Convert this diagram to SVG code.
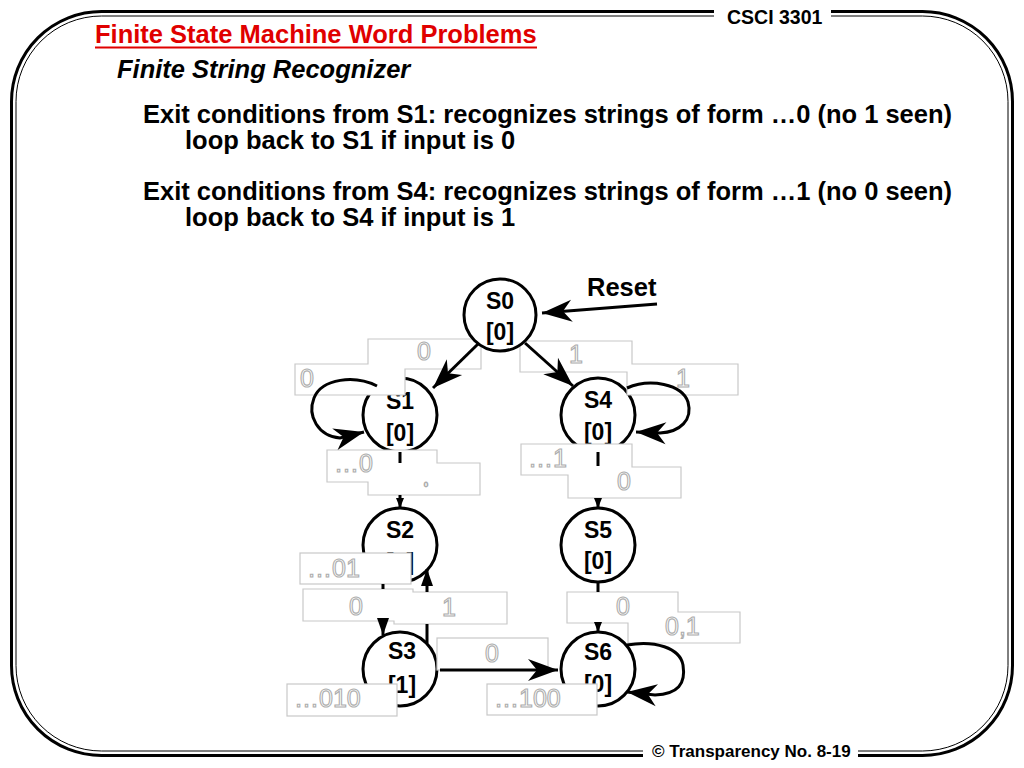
<svg xmlns="http://www.w3.org/2000/svg" width="1024" height="768" viewBox="0 0 1024 768">
<style>
.t{font-family:"Liberation Sans",Arial,sans-serif;font-weight:bold;font-size:25.5px;fill:#000}
.nt{font-family:"Liberation Sans",Arial,sans-serif;font-weight:bold;font-size:23px;fill:#000;text-anchor:middle}
.node{fill:#fff;stroke:#000;stroke-width:3}
.lbl{fill:#fff;stroke:#c8c8c8;stroke-width:1.2}
.lt{font-family:"Liberation Sans",Arial,sans-serif;font-size:25px;fill:#fff;stroke:#adadad;stroke-width:1.1}
.edge{fill:none;stroke:#000;stroke-width:3}
.frame{fill:none;stroke:#000}
</style>
<defs>
<marker id="big" viewBox="-32 -12 34 24" refX="0" refY="0" markerWidth="34" markerHeight="24" markerUnits="userSpaceOnUse" orient="auto"><path d="M0,0 L-30,-11 L-21,0 L-30,11 Z" fill="#000"/></marker>
<marker id="med" viewBox="-18 -8 20 16" refX="0" refY="0" markerWidth="20" markerHeight="16" markerUnits="userSpaceOnUse" orient="auto"><path d="M0,0 L-17,-6 L-17,6 Z" fill="#000"/></marker>
<marker id="small" viewBox="-12 -6 14 12" refX="0" refY="0" markerWidth="14" markerHeight="12" markerUnits="userSpaceOnUse" orient="auto"><path d="M0,0 L-10,-4 L-10,4 Z" fill="#000"/></marker>
</defs>
<rect width="1024" height="768" fill="#fff"/>
<g id="frame">
<path class="frame" stroke-width="3" d="M714 11.5 H101.5 A90 90 0 0 0 11.5 101.5 V665.5 A90 90 0 0 0 101.5 755.5 H643"/>
<path class="frame" stroke-width="3" d="M858 755.5 H922.5 A90 90 0 0 0 1012.5 665.5 V101.5 A90 90 0 0 0 922.5 11.5 H831"/>
<path class="frame" stroke-width="1" d="M714 16 H101.5 A85.5 85.5 0 0 0 16 101.5 V665.5 A85.5 85.5 0 0 0 101.5 751 H643"/>
<path class="frame" stroke-width="1" d="M858 751 H922.5 A85.5 85.5 0 0 0 1008 665.5 V101.5 A85.5 85.5 0 0 0 922.5 16 H831"/>
</g>
<g id="header">
<text x="727" y="24" font-family="Liberation Sans, Arial, sans-serif" font-weight="bold" font-size="19.5">CSCI 3301</text>
<text x="95" y="43" class="t" style="fill:#e00000">Finite State Machine Word Problems</text>
<line x1="95" y1="47.5" x2="537" y2="47.5" stroke="#e00000" stroke-width="2"/>
<text x="117" y="78" class="t" font-style="italic">Finite String Recognizer</text>
<text x="143" y="123" class="t">Exit conditions from S1: recognizes strings of form …0 (no 1 seen)</text>
<text x="185" y="149" class="t">loop back to S1 if input is 0</text>
<text x="143" y="200" class="t">Exit conditions from S4: recognizes strings of form …1 (no 0 seen)</text>
<text x="185" y="226" class="t">loop back to S4 if input is 1</text>
</g>
<g id="footer">
<text x="652" y="757" font-family="Liberation Sans, Arial, sans-serif" font-weight="bold" font-size="17">© Transparency No. 8-19</text>
</g>
<g id="S1"><circle class="node" cx="400" cy="415" r="37"/><text class="nt" x="400" y="409">S1</text><text class="nt" x="400" y="441">[0]</text></g>
<g id="S4"><circle class="node" cx="598" cy="415" r="37"/><text class="nt" x="598" y="408">S4</text><text class="nt" x="598" y="440">[0]</text></g>
<g id="S2"><circle class="node" cx="400" cy="545" r="37"/><text class="nt" x="400" y="538">S2</text><text class="nt" x="400" y="570">[0]</text></g>
<g id="S5"><circle class="node" cx="598" cy="545" r="37"/><text class="nt" x="598" y="538">S5</text><text class="nt" x="598" y="569">[0]</text></g>
<g id="S3"><circle class="node" cx="400" cy="669" r="37"/><text class="nt" x="402" y="659">S3</text><text class="nt" x="402" y="693">[1]</text></g>
<g id="S6"><circle class="node" cx="598" cy="669" r="37"/><text class="nt" x="598" y="660">S6</text><text class="nt" x="598" y="692">[0]</text></g>
<g id="labels">
<path class="lbl" d="M368 339 H481 V369 H405 V395 H295 V364 H368 Z"/>
<text class="lt" x="424" y="360" text-anchor="middle">0</text>
<text class="lt" x="307" y="387" text-anchor="middle">0</text>
<path class="lbl" d="M520 341 H632 V364 H738 V395 H627 V372 H520 Z"/>
<text class="lt" x="576" y="363" text-anchor="middle">1</text>
<text class="lt" x="683" y="387" text-anchor="middle">1</text>
<path class="lbl" d="M327 450 H437 V463 H480 V495 H368 V482 H327 Z"/>
<text class="lt" x="334" y="472">…0</text>
<text class="lt" x="426" y="487" text-anchor="middle" style="font-size:8px;stroke-width:0.8">0</text>
<path class="lbl" d="M521 444 H632 V467 H681 V498 H568 V475 H521 Z"/>
<text class="lt" x="528" y="467">…1</text>
<text class="lt" x="624" y="490" text-anchor="middle">0</text>
<rect class="lbl" x="300" y="553" width="111" height="31"/>
<text class="lt" x="307" y="577">…01</text>
<path class="lbl" d="M303 589 H413 V592 H507 V624 H394 V621 H303 Z"/>
<text class="lt" x="356" y="615" text-anchor="middle">0</text>
<text class="lt" x="449" y="616" text-anchor="middle">1</text>
<rect class="lbl" x="437" y="638" width="111" height="32"/>
<text class="lt" x="492" y="662" text-anchor="middle">0</text>
<rect class="lbl" x="287" y="684" width="110" height="32"/>
<text class="lt" x="294" y="707">…010</text>
<rect class="lbl" x="487" y="684" width="110" height="31"/>
<text class="lt" x="494" y="707">…100</text>
<path class="lbl" d="M567 592 H678 V612 H740 V643 H628 V623 H567 Z"/>
<text class="lt" x="623" y="615" text-anchor="middle">0</text>
<text class="lt" x="665" y="635">0,1</text>
</g>
<g id="S0"><circle class="node" cx="500" cy="315" r="36"/><text class="nt" x="500" y="309">S0</text><text class="nt" x="500" y="340">[0]</text></g>
<g id="connectors">
<text x="587" y="296" font-family="Liberation Sans, Arial, sans-serif" font-weight="bold" font-size="25.5">Reset</text>
<path class="edge" d="M657 304 L542 313" marker-end="url(#big)"/>
<path class="edge" d="M478 344 L433 388" marker-end="url(#big)"/>
<path class="edge" d="M525 343 L573 386" marker-end="url(#big)"/>
<path class="edge" d="M377 386 C355 375 322 378 314 398 C307 416 318 436 340 438 L364 432" marker-end="url(#big)"/>
<path class="edge" d="M627 388 C650 378 682 384 688 402 C693 420 680 432 660 433 L636 432" marker-end="url(#big)"/>
<path class="edge" d="M400 452 V463"/>
<path class="edge" d="M400 495 V508" marker-end="url(#small)"/>
<path class="edge" d="M598 452 V466"/>
<path class="edge" d="M598 498 V508" marker-end="url(#small)"/>
<path class="edge" d="M383 584 V589"/>
<path class="edge" d="M383 621 V635" marker-end="url(#med)"/>
<path class="edge" d="M427 643 V624"/>
<path class="edge" d="M427 592 V569" marker-end="url(#med)"/>
<path class="edge" d="M598 582 V592"/>
<path class="edge" d="M598 623 V632" marker-end="url(#small)"/>
<path class="edge" d="M440 670 L558 670" marker-end="url(#big)"/>
<path class="edge" d="M627 645 C655 640 680 648 683 665 C686 684 678 694 655 695 L627 692" marker-end="url(#big)"/>
</g>
</svg>
